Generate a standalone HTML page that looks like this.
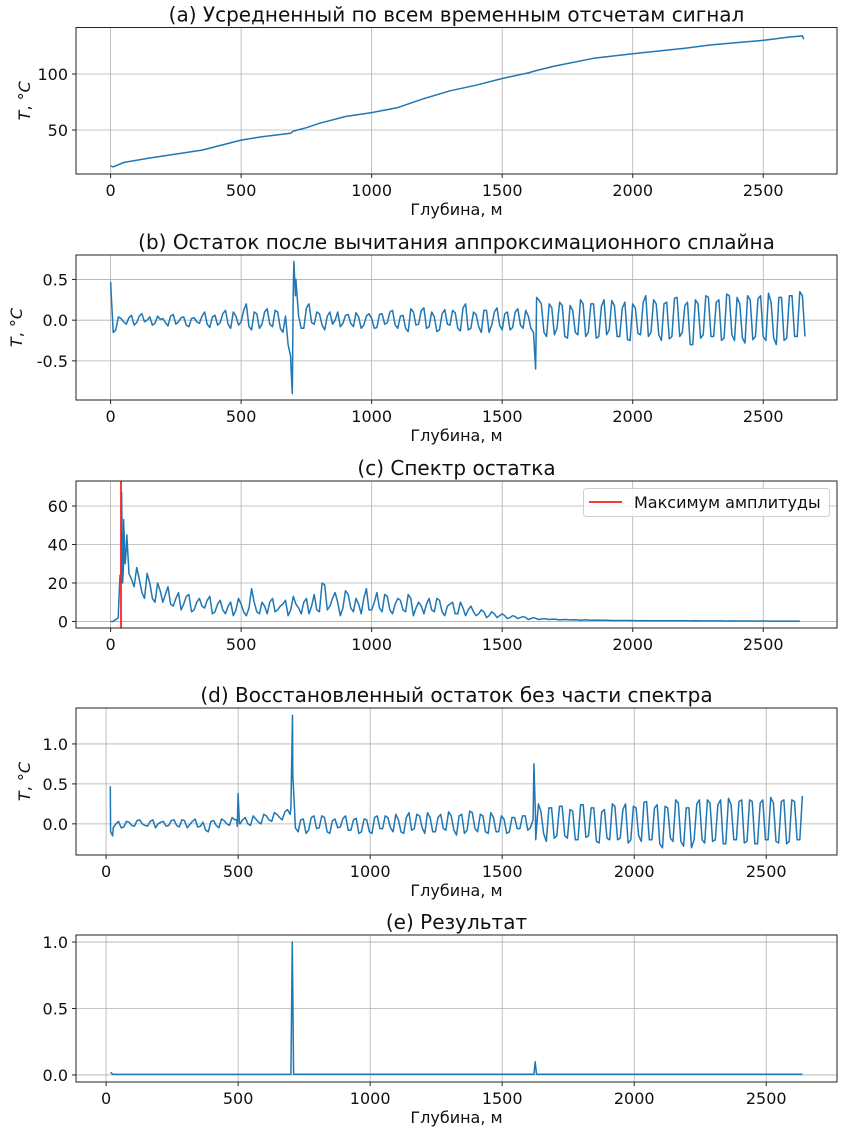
<!DOCTYPE html>
<html><head><meta charset="utf-8"><style>
body{margin:0;background:#fff}
svg{display:block;font-family:"DejaVu Sans","Liberation Sans",sans-serif}
</style></head><body>
<svg id="fig" width="843" height="1131" viewBox="0 0 843 1131"></svg>
<script>
// ---- data ----
const depthA = [0,10,50,150,350,500,580,690,700,750,800,900,1000,1100,1200,1300,1400,1500,1600,1630,1700,1850,2000,2200,2300,2500,2600,2650,2655];
const tempA = [18,17,21,25,32,41,44,47,49,52,56,62,65.5,70,78,85,90,96,101,103,107,114,118,123,126,130,133,134,131];

const residB = [0.47,-0.12,0.02,-0.05,0.06,-0.03,0.08,0.0,-0.06,0.05,
 0.02,-0.07,0.07,-0.02,0.04,-0.08,0.03,-0.04,0.1,-0.09,
 0.06,-0.03,0.12,-0.1,0.05,-0.02,0.2,-0.12,0.08,-0.05,
 0.14,-0.08,0.1,-0.15,-0.3,
 0.4,
 0.05,-0.1,0.2,-0.05,0.08,-0.12,0.1,0.0,-0.08,0.06,
 -0.04,0.09,-0.1,0.05,0.02,-0.09,0.08,-0.03,0.12,-0.1,
 0.06,-0.14,0.1,-0.05,0.15,-0.08,0.04,-0.12,0.13,-0.06,
 0.09,-0.13,0.2,-0.1,0.07,-0.15,0.12,-0.06,0.15,-0.12,
 0.1,-0.09,0.14,-0.1,0.05,-0.15,
 0.25,-0.15,0.2,-0.18,0.22,-0.2,0.18,-0.15,0.25,-0.2,
 0.2,-0.22,0.17,-0.18,0.24,-0.2,0.15,-0.24,0.2,-0.16,
 0.22,-0.2,0.25,-0.18,0.2,-0.23,0.27,-0.2,0.18,-0.3,
 0.25,-0.22,0.3,-0.2,0.22,-0.25,0.32,-0.18,0.28,-0.22,
 0.3,-0.24,0.26,-0.2,0.33,-0.22,0.28,-0.25,0.3,-0.2,0.35,-0.2];
const residB2 = [-0.15,0.04,-0.02,0.03,-0.06,0.05,-0.02,0.04,-0.04,0.01,
 -0.03,0.05,-0.05,0.03,-0.06,0.02,-0.02,0.05,-0.05,0.04,
 -0.06,0.08,-0.05,0.1,-0.06,0.12,-0.08,0.1,-0.1,0.1,
 -0.05,0.12,-0.1,0.05,-0.45,
 0.5,
 -0.1,0.15,-0.03,0.1,-0.06,0.05,-0.05,0.1,-0.04,0.07,
 -0.08,0.04,-0.06,0.08,-0.1,0.07,-0.05,0.1,-0.06,0.05,
 -0.1,0.14,-0.06,0.12,-0.1,0.1,-0.14,0.08,-0.05,0.12,
 -0.1,0.15,-0.12,0.1,-0.08,0.12,-0.15,0.1,-0.06,0.08,
 -0.12,0.1,-0.06,0.12,-0.1,
 -0.2,0.2,-0.2,0.15,-0.1,0.18,-0.22,0.12,-0.18,0.2,
 -0.15,0.2,-0.2,0.25,-0.12,0.18,-0.2,0.22,-0.25,0.15,
 -0.18,0.3,-0.15,0.2,-0.25,0.22,-0.2,0.28,-0.15,0.22,
 -0.3,0.2,-0.18,0.28,-0.2,0.25,-0.22,0.3,-0.25,0.2,
 -0.28,0.25,-0.2,0.3,-0.25,0.22,-0.3,0.28,-0.22,0.3,-0.2,0.3];
const featDepthB = [690,696,702,708,1628,1632];
const featValB = [-0.5,-0.9,0.72,0.3,-0.6,0.28];

const specC = [0,1,20,38,22,28,15,25,12,20,
 10,18,8,15,9,14,6,12,7,13,
 5,11,4,10,6,9,3,17,5,10,
 4,12,6,9,3,13,7,10,4,14,
 5,19,8,15,3,16,7,12,4,17,
 6,15,5,13,4,12,6,14,3,10,
 4,12,5,11,3,9,4,10,3,8,
 3,6,2,5,2,4,1.5,3,1.5,2.5,
 1,2,1,1.5,1,1.2,0.8,1,0.8,0.9,
 0.6,0.8,0.6,0.7,0.6,0.6,0.5,0.5,0.5,0.5,
 0.45,0.4,0.45,0.4,0.4,0.4,0.35,0.4,0.35,0.35,0.35,0.3,0.35,0.3,0.3,0.3,0.3,
 0.3,0.25,0.3,0.25,0.25,0.25,0.25,0.2,0.25,0.2,0.2,0.2,0.2,0.2,0.2,0.2];
const specC2 = [0,2,30,26,18,22,12,20,10,16,
 14,9,12,6,13,5,10,8,11,4,
 9,6,8,3,12,5,7,10,4,8,
 10,5,8,11,6,9,4,12,8,6,
 20,6,12,10,7,14,5,9,12,6,
 10,7,14,6,9,11,5,12,7,8,
 9,6,12,5,8,10,4,7,6,5,
 4,5,3,4,3,3,2,2.5,2,2];
const featDepthC = [30,36,42,46,50,56,62,70];
const featValC = [5,24,67,20,53,30,45,25];
const maxFreq = 40;

const residD = [-0.1,0.0,-0.05,0.03,-0.02,0.04,0.0,-0.03,0.05,0.0,
 0.03,-0.02,0.05,-0.04,0.04,-0.01,0.06,-0.03,-0.08,0.03,
 -0.02,0.06,0.0,0.08,-0.03,0.05,0.0,0.1,0.02,0.12,
 0.05,0.14,0.08,0.15,0.12,
 -0.05,
 0.05,-0.12,0.08,-0.06,0.1,-0.1,0.04,-0.05,0.07,-0.08,
 0.05,-0.12,0.06,-0.1,0.08,-0.06,0.1,-0.05,0.12,-0.1,
 0.08,-0.08,0.12,-0.05,0.14,-0.1,0.08,-0.06,0.15,-0.08,
 0.1,-0.12,0.16,-0.06,0.12,-0.1,0.14,-0.1,0.1,-0.12,
 0.08,-0.06,0.1,-0.08,0.05,
 0.25,-0.12,0.2,-0.18,0.22,-0.15,0.18,-0.2,0.24,-0.17,
 0.2,-0.22,0.15,-0.18,0.25,-0.2,0.18,-0.24,0.22,-0.15,
 0.27,-0.2,0.2,-0.25,0.22,-0.18,0.3,-0.22,0.2,-0.3,
 0.25,-0.2,0.3,-0.22,0.24,-0.25,0.32,-0.2,0.28,-0.24,
 0.3,-0.25,0.26,-0.2,0.33,-0.22,0.28,-0.25,0.3,-0.2,0.35];
const residD2 = [-0.05,0.03,-0.04,0.02,-0.03,0.05,-0.02,0.03,-0.05,0.02,
 -0.03,0.04,-0.02,0.05,-0.05,0.03,-0.04,0.02,-0.1,0.04,
 -0.05,0.04,-0.02,0.05,0.0,0.08,-0.02,0.06,0.0,0.1,
 0.03,0.12,0.05,0.18,0.6,
 -0.1,0.06,-0.08,0.1,-0.05,0.08,-0.12,0.06,-0.04,0.1,
 -0.08,0.07,-0.1,0.05,-0.12,0.1,-0.06,0.08,-0.1,0.05,
 -0.12,0.14,-0.06,0.1,-0.12,0.08,-0.1,0.12,-0.08,0.1,
 -0.14,0.12,-0.08,0.14,-0.1,0.1,-0.12,0.08,-0.1,0.06,
 -0.1,0.08,-0.06,0.1,-0.05,
 -0.2,0.15,-0.22,0.2,-0.15,0.22,-0.18,0.16,-0.2,0.24,
 -0.15,0.2,-0.24,0.18,-0.2,0.22,-0.18,0.25,-0.2,0.2,
 -0.22,0.28,-0.2,0.24,-0.3,0.2,-0.22,0.26,-0.28,0.2,
 -0.2,0.3,-0.24,0.26,-0.2,0.3,-0.25,0.24,-0.2,0.3,
 -0.22,0.28,-0.25,0.3,-0.2,0.26,-0.24,0.3,-0.22,0.28,-0.2];
const featDepthD = [16,25,495,500,505,700,706,712,1620,1626];
const featValD = [0.47,-0.15,0.05,0.38,0.0,0.2,1.36,0.3,0.75,0.1];

const depthE = [17,25,30,700,705,710,1620,1625,1630,2637];
const resultE = [0.02,0.005,0.004,0.005,1.0,0.005,0.005,0.1,0.005,0.005];

const xTicks = [0,500,1000,1500,2000,2500];
const yTicksA = [50,100];
const yTicksB = [-0.5,0.0,0.5];
const yTicksC = [0,20,40,60];
const yTicksD = [0.0,0.5,1.0];
const yTicksE = [0.0,0.5,1.0];

// ---- drawing ----
const NS='http://www.w3.org/2000/svg';
const fig=document.getElementById('fig');
function mk(tag,attrs,parent){const e=document.createElementNS(NS,tag);for(const k in attrs)e.setAttribute(k,attrs[k]);(parent||fig).appendChild(e);return e;}
function merge(){const p=[];for(let s=0;s<arguments.length;s+=2){const d=arguments[s],v=arguments[s+1];d.forEach((x,i)=>p.push([x,v[i]]));}p.sort((a,b)=>a[0]-b[0]);return p;}
function grid(arr,start){return arr.map((v,i)=>start+i*20);}

function panel(cfg){
  const g=mk('g',{});
  
  
  const L=76,R=837,T=cfg.top,B=cfg.bottom;
  const sx=x=>L+(x-cfg.x0)/(cfg.x1-cfg.x0)*(R-L);
  const sy=y=>B-(y-cfg.y0)/(cfg.y1-cfg.y0)*(B-T);
  xTicks.forEach(t=>{const l=mk('line',{x1:sx(t),x2:sx(t),y1:T,y2:B,stroke:'#b0b0b0','stroke-width':0.8},g);
    });
  cfg.yt.forEach(t=>{const l=mk('line',{x1:L,x2:R,y1:sy(t),y2:sy(t),stroke:'#b0b0b0','stroke-width':0.8},g);
    });
  const cp=mk('clipPath',{id:'c'+cfg.name},g);mk('rect',{x:L,y:T,width:R-L,height:B-T},cp);
  const d=cfg.pts.map((p,i)=>(i?'L':'M')+sx(p[0]).toFixed(1)+' '+sy(p[1]).toFixed(1)).join('');
  const path=mk('path',{d:d,fill:'none',stroke:'#1f77b4','stroke-width':1.5,'stroke-linejoin':'round','clip-path':'url(#c'+cfg.name+')'},g);
  
  
  if(cfg.vline!==undefined){
    const v=mk('line',{x1:sx(cfg.vline),x2:sx(cfg.vline),y1:T,y2:B,stroke:'#ff2020','stroke-width':2,'stroke-opacity':0.9},g);
    
    
  }
  const fr=mk('rect',{x:L,y:T,width:R-L,height:B-T,fill:'none',stroke:'#222','stroke-width':1},g);
  
  xTicks.forEach(t=>{mk('line',{x1:sx(t),x2:sx(t),y1:B,y2:B+4,stroke:'#222'},g);
    const tx=mk('text',{x:sx(t),y:B+22,'font-size':16,'text-anchor':'middle',fill:'#111'},g);tx.textContent=t;
    });
  cfg.yt.forEach(t=>{mk('line',{x1:L-4,x2:L,y1:sy(t),y2:sy(t),stroke:'#222'},g);
    const tx=mk('text',{x:L-8,y:sy(t)+6,'font-size':16,'text-anchor':'end',fill:'#111'},g);tx.textContent=cfg.fmt(t);
    });
  const ti=mk('text',{x:(L+R)/2,y:T-6,'font-size':20,'text-anchor':'middle',fill:'#111'},g);ti.textContent=cfg.title;
  
  if(cfg.xlabel){const xl=mk('text',{x:(L+R)/2,y:B+41,'font-size':16,'text-anchor':'middle',fill:'#111'},g);xl.textContent='Глубина, м';
    }
  if(cfg.ylabel){const yl=mk('text',{x:0,y:0,'font-size':16,'text-anchor':'middle',fill:'#111',transform:'translate('+(cfg.ylx||30)+','+((T+B)/2)+') rotate(-90)'},g);
    yl.innerHTML='<tspan font-style="italic">T</tspan>, °<tspan font-style="italic">C</tspan>';
    }
  return {g,sx,sy,L,R,T,B};
}
const f1=t=>t.toFixed(1), f0=t=>String(t);

panel({name:'panel-a-mean-signal',top:27.5,bottom:174,x0:-132.5,x1:2782.5,y0:10.7,y1:141.5,yt:yTicksA,fmt:f0,
  pts:merge(depthA,tempA),title:'(a) Усредненный по всем временным отсчетам сигнал',xlabel:true,ylabel:true,ylx:30});
panel({name:'panel-b-residual',top:255,bottom:400,x0:-132.5,x1:2782.5,y0:-0.98,y1:0.80,yt:yTicksB,fmt:f1,
  pts:merge(grid(residB,0),residB,grid(residB2,10),residB2,featDepthB,featValB),title:'(b) Остаток после вычитания аппроксимационного сплайна',xlabel:true,ylabel:true,ylx:22});
panel({name:'panel-c-spectrum',top:481,bottom:628,x0:-132.5,x1:2782.5,y0:-3.4,y1:73,yt:yTicksC,fmt:f0,
  pts:merge(grid(specC,0),specC,grid(specC2,10),specC2,featDepthC,featValC),title:'(c) Спектр остатка',xlabel:false,ylabel:false,vline:maxFreq});
const lg=mk('g',{});


mk('rect',{x:583.5,y:488.5,width:246,height:28,rx:3,fill:'#fff','fill-opacity':0.85,stroke:'#d0d0d0'},lg);
mk('line',{x1:589,x2:622,y1:502,y2:502,stroke:'#ff2020','stroke-width':2,'stroke-opacity':0.9},lg);
const lt=mk('text',{x:634,y:508,'font-size':16,fill:'#111'},lg);lt.textContent='Максимум амплитуды';



panel({name:'panel-d-restored-residual',top:708,bottom:855,x0:-114,x1:2768,y0:-0.39,y1:1.45,yt:yTicksD,fmt:f1,
  pts:merge(grid(residD,17),residD,grid(residD2,27),residD2,featDepthD,featValD),title:'(d) Восстановленный остаток без части спектра',xlabel:true,ylabel:true,ylx:30});
panel({name:'panel-e-result',top:935,bottom:1082,x0:-114,x1:2768,y0:-0.053,y1:1.053,yt:yTicksE,fmt:f1,
  pts:merge(depthE,resultE),title:'(e) Результат',xlabel:true,ylabel:false});
</script>
</body></html>
